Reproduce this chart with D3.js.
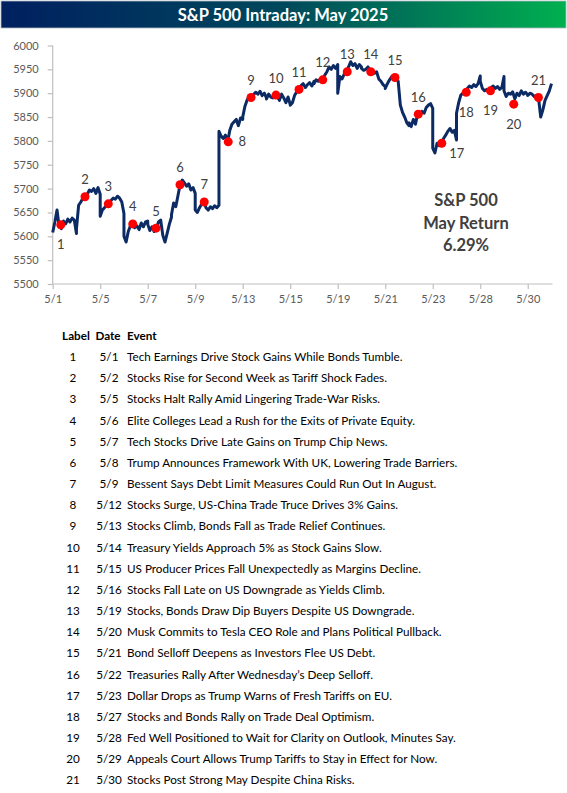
<!DOCTYPE html>
<html>
<head>
<script src="https://cdn.jsdelivr.net/npm/d3@7"></script>
<style>
  body { margin: 0; background: #fff; }
  text { font-family: Lato, "Noto Sans", sans-serif; }
</style>
</head>
<body>
<div id="chart"></div>
<script>

// trading days of May 2025, axis ticks every second day
var tradingDays = ['5/1', '5/2', '5/5', '5/6', '5/7', '5/8', '5/9', '5/12', '5/13', '5/14', '5/15',
                   '5/16', '5/19', '5/20', '5/21', '5/22', '5/23', '5/27', '5/28', '5/29', '5/30'];
var tickLabels = ['5/1', '5/5', '5/7', '5/9', '5/13', '5/15', '5/19', '5/21', '5/23', '5/28', '5/30'];
var yTicks = [5500, 5550, 5600, 5650, 5700, 5750, 5800, 5850, 5900, 5950, 6000];

// intraday readings per day (evenly spaced through each session)
var intraday = [
  [5608, 5630, 5655, 5620, 5616, 5632, 5626, 5636, 5630, 5638, 5634, 5606],
  [5615, 5665, 5672, 5680, 5683, 5688, 5697, 5694, 5700, 5690, 5702, 5688],
  [5642, 5655, 5660, 5666, 5668, 5675, 5680, 5678, 5684, 5680, 5672, 5648],
  [5600, 5588, 5610, 5622, 5626, 5618, 5622, 5614, 5628, 5620, 5630, 5632],
  [5625, 5612, 5620, 5610, 5617, 5630, 5634, 5602, 5588, 5606, 5625, 5640],
  [5645, 5670, 5662, 5685, 5708, 5718, 5712, 5705, 5710, 5697, 5702, 5690],
  [5655, 5650, 5660, 5668, 5672, 5660, 5655, 5662, 5658, 5664, 5660, 5665],
  [5820, 5810, 5805, 5812, 5798, 5822, 5835, 5840, 5845, 5832, 5848, 5845],
  [5850, 5872, 5885, 5893, 5891, 5897, 5902, 5898, 5904, 5895, 5900, 5890],
  [5888, 5898, 5892, 5890, 5896, 5893, 5885, 5898, 5890, 5880, 5892, 5876],
  [5875, 5880, 5895, 5903, 5908, 5916, 5920, 5912, 5918, 5922, 5915, 5925],
  [5920, 5928, 5925, 5930, 5928, 5938, 5945, 5955, 5950, 5958, 5952, 5960],
  [5900, 5935, 5930, 5940, 5945, 5955, 5966, 5958, 5962, 5952, 5960, 5955],
  [5952, 5948, 5950, 5955, 5945, 5948, 5942, 5945, 5930, 5925, 5918, 5914],
  [5910, 5920, 5928, 5935, 5933, 5930, 5925, 5875, 5860, 5850, 5838, 5832],
  [5838, 5830, 5845, 5835, 5856, 5852, 5862, 5858, 5870, 5875, 5878, 5868],
  [5785, 5775, 5795, 5790, 5795, 5805, 5812, 5820, 5826, 5818, 5822, 5802],
  [5858, 5880, 5896, 5900, 5902, 5910, 5915, 5912, 5918, 5914, 5920, 5936],
  [5925, 5910, 5905, 5908, 5905, 5912, 5915, 5910, 5914, 5908, 5912, 5935],
  [5905, 5893, 5900, 5898, 5903, 5888, 5900, 5895, 5905, 5898, 5902, 5896],
  [5895, 5900, 5898, 5893, 5895, 5890, 5850, 5865, 5885, 5895, 5905, 5920]
];

// events
var eventLabels = [1, 2, 3, 4, 5, 6, 7, 8, 9, 10, 11, 12, 13, 14, 15, 16, 17, 18, 19, 20, 21];
var eventDates = ['5/1', '5/2', '5/5', '5/6', '5/7', '5/8', '5/9', '5/12', '5/13', '5/14', '5/15',
                  '5/16', '5/19', '5/20', '5/21', '5/22', '5/23', '5/27', '5/28', '5/29', '5/30'];
var eventTimes = [0.34, 1.36, 2.34, 3.37, 4.35, 5.36, 6.38, 7.39, 8.35, 9.40, 10.37,
                  11.37, 12.40, 13.39, 14.41, 15.39, 16.38, 17.41, 18.43, 19.41, 20.45];
var eventValues = [5624, 5683, 5668, 5626, 5617, 5708, 5672, 5798, 5891, 5896, 5908,
                   5928, 5945, 5945, 5933, 5856, 5795, 5902, 5905, 5877, 5891];
var eventTexts = [
  'Tech Earnings Drive Stock Gains While Bonds Tumble.',
  'Stocks Rise for Second Week as Tariff Shock Fades.',
  'Stocks Halt Rally Amid Lingering Trade-War Risks.',
  'Elite Colleges Lead a Rush for the Exits of Private Equity.',
  'Tech Stocks Drive Late Gains on Trump Chip News.',
  'Trump Announces Framework With UK, Lowering Trade Barriers.',
  'Bessent Says Debt Limit Measures Could Run Out In August.',
  'Stocks Surge, US-China Trade Truce Drives 3% Gains.',
  'Stocks Climb, Bonds Fall as Trade Relief Continues.',
  'Treasury Yields Approach 5% as Stock Gains Slow.',
  'US Producer Prices Fall Unexpectedly as Margins Decline.',
  'Stocks Fall Late on US Downgrade as Yields Climb.',
  'Stocks, Bonds Draw Dip Buyers Despite US Downgrade.',
  'Musk Commits to Tesla CEO Role and Plans Political Pullback.',
  'Bond Selloff Deepens as Investors Flee US Debt.',
  'Treasuries Rally After Wednesday\u2019s Deep Selloff.',
  'Dollar Drops as Trump Warns of Fresh Tariffs on EU.',
  'Stocks and Bonds Rally on Trade Deal Optimism.',
  'Fed Well Positioned to Wait for Clarity on Outlook, Minutes Say.',
  'Appeals Court Allows Trump Tariffs to Stay in Effect for Now.',
  'Stocks Post Strong May Despite China Risks.'
];
var labelSide = ['below', 'above', 'above', 'above', 'above', 'above', 'above', 'right', 'above', 'above', 'above',
                 'above', 'above', 'above', 'above', 'above', 'belowRight', 'below', 'below', 'below', 'above'];

var annotation = ['S&P 500', 'May Return', '6.29%'];
var title = 'S&P 500 Intraday: May 2025';

var width = 567, height = 793;
var plot = { left: 52.7, right: 551.5, top: 45.5, bottom: 284 };

var svg = d3.select('#chart').append('svg')
    .attr('width', width)
    .attr('height', height);

// title bar
var grad = svg.append('defs').append('linearGradient')
    .attr('id', 'titleGrad');
grad.append('stop').attr('offset', '0%').attr('stop-color', '#002060');
grad.append('stop').attr('offset', '50%').attr('stop-color', '#00485c');
grad.append('stop').attr('offset', '100%').attr('stop-color', '#00b050');

svg.append('rect')
    .attr('x', 1).attr('y', 1)
    .attr('width', width - 2).attr('height', 27)
    .attr('fill', 'url(#titleGrad)')
    .attr('stroke', '#b0b8c0')
    .attr('stroke-width', 0.8);

svg.append('text')
    .attr('x', 283).attr('y', 20.5)
    .attr('text-anchor', 'middle')
    .attr('fill', '#fff')
    .attr('font-weight', 'bold')
    .attr('font-size', 16.5)
    .text(title);

// scales
var x = d3.scaleLinear()
    .domain([0, tradingDays.length])
    .range([plot.left, plot.right]);

var y = d3.scaleLinear()
    .domain([5500, 6000])
    .range([plot.bottom, plot.top]);

// axes
var yAxis = d3.axisLeft(y)
    .tickValues(yTicks)
    .tickFormat(d3.format('d'))
    .tickSize(5)
    .tickPadding(9);

var gy = svg.append('g')
    .attr('transform', 'translate(' + plot.left + ',0)')
    .call(yAxis);

var xAxis = d3.axisBottom(x)
    .tickValues(tickLabels.map(function(d) { return tradingDays.indexOf(d); }))
    .tickFormat(function(d) { return tradingDays[d]; })
    .tickSize(5)
    .tickSizeOuter(0)
    .tickPadding(6);

var gx = svg.append('g')
    .attr('transform', 'translate(0,' + plot.bottom + ')')
    .call(xAxis);

gy.select('.domain').attr('d', 'M0,' + plot.top + 'V' + plot.bottom);
[gx, gy].forEach(function(g) {
  g.select('.domain').attr('stroke', '#bfbfbf').attr('stroke-width', 1.2);
  g.selectAll('.tick line').attr('stroke', '#bfbfbf').attr('stroke-width', 1.2);
  g.selectAll('.tick text')
      .attr('fill', '#595959')
      .attr('font-size', 11)
      .attr('font-family', 'Lato, sans-serif');
});
gx.select('.domain').attr('d', 'M' + plot.left + ',0H' + (plot.right + 1));

// intraday line
var points = [];
intraday.forEach(function(day, d) {
  day.forEach(function(v, j) {
    points.push({ t: d + j / (day.length - 1), v: v });
  });
});

var line = d3.line()
    .x(function(d) { return x(d.t); })
    .y(function(d) { return y(d.v); });

svg.append('path')
    .datum(points)
    .attr('d', line)
    .attr('fill', 'none')
    .attr('stroke', '#0c2a64')
    .attr('stroke-width', 3)
    .attr('stroke-linejoin', 'round');

// event dots and labels
var events = eventLabels.map(function(l, i) {
  return { label: l, t: eventTimes[i], v: eventValues[i], side: labelSide[i] };
});

svg.selectAll('circle.event')
    .data(events)
    .enter().append('circle')
    .attr('class', 'event')
    .attr('cx', function(d) { return x(d.t); })
    .attr('cy', function(d) { return y(d.v); })
    .attr('r', 4.5)
    .attr('fill', '#ff0000');

var offsets = {
  above: [0, -12.5],
  below: [0, 24.5],
  right: [14, 4.5],
  belowRight: [15, 15]
};

svg.selectAll('text.evlabel')
    .data(events)
    .enter().append('text')
    .attr('class', 'evlabel')
    .attr('x', function(d) { return x(d.t) + offsets[d.side][0]; })
    .attr('y', function(d) { return y(d.v) + offsets[d.side][1]; })
    .attr('text-anchor', 'middle')
    .attr('fill', '#404040')
    .attr('font-size', 13)
    .text(function(d) { return d.label; });

// return annotation
svg.selectAll('text.note')
    .data(annotation)
    .enter().append('text')
    .attr('class', 'note')
    .attr('x', 466)
    .attr('y', function(d, i) { return 206 + i * 22.7; })
    .attr('text-anchor', 'middle')
    .attr('fill', '#404040')
    .attr('font-weight', 'bold')
    .attr('font-size', 16.5)
    .text(function(d) { return d; });

// event table
var rowY = function(i) { return 361 + i * 21.17; };
var table = svg.append('g').attr('font-size', 11.7).attr('fill', '#000');

table.append('text').attr('x', 76).attr('y', 340).attr('text-anchor', 'middle')
    .attr('font-weight', 'bold').text('Label');
table.append('text').attr('x', 108).attr('y', 340).attr('text-anchor', 'middle')
    .attr('font-weight', 'bold').text('Date');
table.append('text').attr('x', 127).attr('y', 340)
    .attr('font-weight', 'bold').text('Event');

var rows = table.selectAll('g.row')
    .data(eventLabels)
    .enter().append('g')
    .attr('class', 'row');

rows.append('text')
    .attr('x', 73)
    .attr('y', function(d, i) { return rowY(i); })
    .attr('text-anchor', 'middle')
    .text(function(d) { return d; });

rows.append('text')
    .attr('x', 109)
    .attr('y', function(d, i) { return rowY(i); })
    .attr('text-anchor', 'middle')
    .text(function(d, i) { return eventDates[i]; });

rows.append('text')
    .attr('x', 127)
    .attr('y', function(d, i) { return rowY(i); })
    .text(function(d, i) { return eventTexts[i]; });

</script>
</body>
</html>
